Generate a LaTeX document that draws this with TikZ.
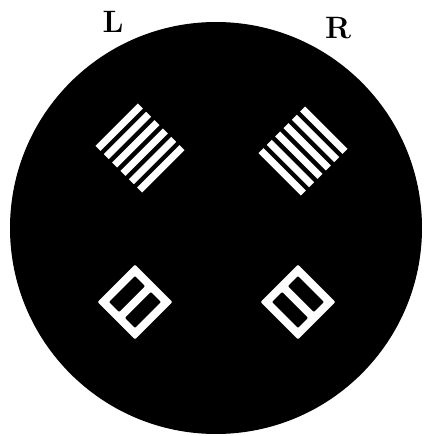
\documentclass[tikz,border=0pt]{standalone}
\usepackage{tikz}
\usetikzlibrary{positioning}
\begin{document}
\begin{tikzpicture}[
    x=0.025cm, y=0.025cm,
    field/.style={fill=black},
    bar/.style={white, line width=5pt, line cap=butt},
    frame/.style={fill=white, even odd rule, rounded corners=0.8pt},
    eyelabel/.style={font=\fontsize{22}{24}\selectfont\bfseries, inner sep=0pt}
]
\useasboundingbox (0,0) rectangle (423,436);

% Field
\fill[field] (216,208) circle (206);

% Eye labels
\node[eyelabel] (left) at (113,414) {L};
\node[eyelabel] (right) at (338,408) {R};

% Left grating
\begin{scope}[shift={(140,288)}, rotate=45]
    \foreach \k in {-2.5,-1.5,...,2.5}
        \draw[bar] (-30,\k*11.8) -- (30,\k*11.8);
\end{scope}

% Right grating
\begin{scope}[shift={(303,285)}, rotate=-45]
    \foreach \k in {-2.5,-1.5,...,2.5}
        \draw[bar] (-30,\k*11.8) -- (30,\k*11.8);
\end{scope}

% Left square
\begin{scope}[shift={(135,134)}, rotate=45]
    \fill[frame] (-26.5,-26.5) rectangle (26.5,26.5)
        (-18.5,4) rectangle (18.5,18.5)
        (-18.5,-18.5) rectangle (18.5,-4);
\end{scope}

% Right square
\begin{scope}[shift={(298,134)}, rotate=-45]
    \fill[frame] (-26.5,-26.5) rectangle (26.5,26.5)
        (-18.5,4) rectangle (18.5,18.5)
        (-18.5,-18.5) rectangle (18.5,-4);
\end{scope}

\end{tikzpicture}
\end{document}
